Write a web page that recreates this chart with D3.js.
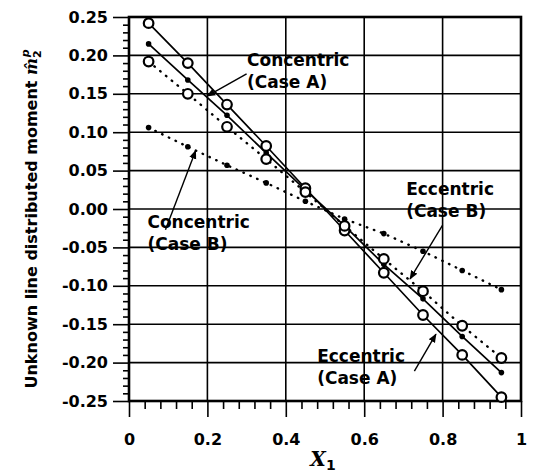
<!DOCTYPE html>
<html>
<head>
<meta charset="utf-8">
<script src="https://cdn.jsdelivr.net/npm/d3@7"></script>
<style>
  body { margin: 0; background: #fff; }
  svg { display: block; }
  .tick text { font-family: "DejaVu Sans", sans-serif; font-weight: bold; font-size: 16px; fill: #000; }
  .tick line { stroke: #000; stroke-width: 1.6; }
  .note { font-family: "DejaVu Sans", sans-serif; font-weight: bold; font-size: 17px; fill: #000; }
</style>
</head>
<body>
<div id="chart"></div>
<script>
// SVG size
var svgWidth = 534;
var svgHeight = 476;

var margin = { top: 17, right: 13, bottom: 75, left: 129 };
var chartWidth = svgWidth - margin.left - margin.right;
var chartHeight = svgHeight - margin.top - margin.bottom;

// Data
var xValues = [0.05, 0.15, 0.25, 0.35, 0.45, 0.55, 0.65, 0.75, 0.85, 0.95];
var eccentricA = [0.242, 0.190, 0.136, 0.082, 0.027, -0.028, -0.083, -0.138, -0.190, -0.245];
var concentricA = [0.215, 0.168, 0.122, 0.073, 0.025, -0.022, -0.072, -0.117, -0.166, -0.213];
var eccentricB = [0.192, 0.150, 0.107, 0.065, 0.022, -0.022, -0.065, -0.107, -0.152, -0.194];
var concentricB = [0.106, 0.081, 0.057, 0.034, 0.010, -0.013, -0.032, -0.055, -0.080, -0.105];

// Axis ticks
var xTicks = [0, 0.2, 0.4, 0.6, 0.8, 1];
var xTickLabels = ["0", "0.2", "0.4", "0.6", "0.8", "1"];
var yTicks = [-0.25, -0.20, -0.15, -0.10, -0.05, 0, 0.05, 0.10, 0.15, 0.20, 0.25];
var yTickLabels = ["-0.25", "-0.20", "-0.15", "-0.10", "-0.05", "0.00", "0.05", "0.10", "0.15", "0.20", "0.25"];

// Series styles: open circles or dots, solid or dotted
var series = [
  { name: "Eccentric (Case A)", values: eccentricA, open: true, dotted: false },
  { name: "Concentric (Case A)", values: concentricA, open: false, dotted: false },
  { name: "Eccentric (Case B)", values: eccentricB, open: true, dotted: true },
  { name: "Concentric (Case B)", values: concentricB, open: false, dotted: true }
];

// Annotations: text lines anchored at data coords, arrow from -> to
var notes = [
  { lines: ["Concentric", "(Case A)"], x: 0.301, y: 0.1865, from: [0.300, 0.176], to: [0.199, 0.147] },
  { lines: ["Concentric", "(Case B)"], x: 0.047, y: -0.0246, from: [0.093, -0.027], to: [0.170, 0.076] },
  { lines: ["Eccentric", "(Case B)"], x: 0.707, y: 0.0184, from: [0.800, -0.021], to: [0.717, -0.091] },
  { lines: ["Eccentric", "(Case A)"], x: 0.480, y: -0.199, from: [0.728, -0.211], to: [0.783, -0.163] }
];

var svg = d3.select("#chart")
  .append("svg")
  .attr("width", svgWidth)
  .attr("height", svgHeight);

var defs = svg.append("defs");
defs.append("marker")
  .attr("id", "arrow")
  .attr("viewBox", "0 0 10 10")
  .attr("refX", 9)
  .attr("refY", 5)
  .attr("markerWidth", 9)
  .attr("markerHeight", 9)
  .attr("markerUnits", "userSpaceOnUse")
  .attr("orient", "auto")
  .append("path")
  .attr("d", "M0,1 L10,5 L0,9 Z")
  .attr("fill", "#000");

var chartGroup = svg.append("g")
  .attr("transform", `translate(${margin.left}, ${margin.top})`);

var xScale = d3.scaleLinear().domain([0, 1]).range([0, chartWidth]);
var yScale = d3.scaleLinear().domain([-0.25, 0.25]).range([chartHeight, 0]);

// grid lines
chartGroup.append("g")
  .selectAll("line")
  .data(xTicks.slice(1, -1))
  .enter()
  .append("line")
  .attr("x1", d => xScale(d))
  .attr("x2", d => xScale(d))
  .attr("y1", 0)
  .attr("y2", chartHeight)
  .attr("stroke", "#000")
  .attr("stroke-width", 1.6);

chartGroup.append("g")
  .selectAll("line")
  .data(yTicks.slice(1, -1))
  .enter()
  .append("line")
  .attr("x1", 0)
  .attr("x2", chartWidth)
  .attr("y1", d => yScale(d))
  .attr("y2", d => yScale(d))
  .attr("stroke", "#000")
  .attr("stroke-width", 1.6);

// minor ticks
var xMinor = d3.range(0, 25).map(i => i * 0.04).filter(v => Math.abs(v * 5 - Math.round(v * 5)) > 1e-6);
var yMinor = d3.range(-25, 26).map(i => i / 100).filter(v => Math.abs(v * 20 - Math.round(v * 20)) > 1e-6);

chartGroup.append("g")
  .attr("transform", `translate(0, ${chartHeight})`)
  .call(d3.axisBottom(xScale).tickValues(xMinor).tickSize(8).tickFormat(""))
  .call(g => g.select(".domain").remove());

chartGroup.append("g")
  .call(d3.axisLeft(yScale).tickValues(yMinor).tickSize(6).tickFormat(""))
  .call(g => g.select(".domain").remove());

// major axes
chartGroup.append("g")
  .attr("transform", `translate(0, ${chartHeight})`)
  .call(d3.axisBottom(xScale).tickValues(xTicks).tickSize(16).tickPadding(17)
    .tickFormat((d, i) => xTickLabels[i]))
  .call(g => g.select(".domain").remove());

chartGroup.append("g")
  .call(d3.axisLeft(yScale).tickValues(yTicks).tickSize(16).tickPadding(5)
    .tickFormat((d, i) => yTickLabels[i]))
  .call(g => g.select(".domain").remove());

// frame
chartGroup.append("rect")
  .attr("x", 0)
  .attr("y", 0)
  .attr("width", chartWidth)
  .attr("height", chartHeight)
  .attr("fill", "none")
  .attr("stroke", "#000")
  .attr("stroke-width", 2.6);

// lines
var line = d3.line()
  .x((d, i) => xScale(xValues[i]))
  .y(d => yScale(d));

series.forEach(function(s) {
  chartGroup.append("path")
    .datum(s.values)
    .attr("d", line)
    .attr("fill", "none")
    .attr("stroke", "#000")
    .attr("stroke-width", s.dotted ? 2.4 : 1.7)
    .attr("stroke-linecap", s.dotted ? "round" : "butt")
    .attr("stroke-dasharray", s.dotted ? "0.5,7" : null);
});

// markers
series.forEach(function(s) {
  chartGroup.append("g")
    .selectAll("circle")
    .data(s.values)
    .enter()
    .append("circle")
    .attr("cx", (d, i) => xScale(xValues[i]))
    .attr("cy", d => yScale(d))
    .attr("r", s.open ? 4.8 : 2.8)
    .attr("fill", s.open ? "#fff" : "#000")
    .attr("stroke", "#000")
    .attr("stroke-width", s.open ? 2.2 : 0);
});

// annotations
notes.forEach(function(n) {
  chartGroup.append("line")
    .attr("x1", xScale(n.from[0]))
    .attr("y1", yScale(n.from[1]))
    .attr("x2", xScale(n.to[0]))
    .attr("y2", yScale(n.to[1]))
    .attr("stroke", "#000")
    .attr("stroke-width", 1.4)
    .attr("marker-end", "url(#arrow)");

  var t = chartGroup.append("text")
    .attr("class", "note")
    .attr("x", xScale(n.x))
    .attr("y", yScale(n.y));
  n.lines.forEach(function(l, i) {
    t.append("tspan")
      .attr("x", xScale(n.x))
      .attr("dy", i === 0 ? 0 : 22)
      .text(l);
  });
});

// axis titles
svg.append("text")
  .attr("x", 323)
  .attr("y", 466)
  .attr("text-anchor", "middle")
  .attr("font-family", "DejaVu Serif, serif")
  .attr("font-style", "italic")
  .attr("font-weight", "bold")
  .attr("font-size", "20px")
  .text("X")
  .append("tspan")
  .attr("dy", 4)
  .attr("font-size", "14px")
  .attr("font-style", "normal")
  .attr("font-family", "DejaVu Sans, sans-serif")
  .text("1");

var yTitle = svg.append("text")
  .attr("transform", "translate(37, 219) rotate(-90)")
  .attr("text-anchor", "middle")
  .attr("font-family", "DejaVu Sans, sans-serif")
  .attr("font-weight", "bold")
  .attr("font-size", "16px");
yTitle.append("tspan").text("Unknown line distributed moment ");
yTitle.append("tspan").attr("font-style", "italic").attr("font-family", "DejaVu Serif, serif").text("m\u0302");
yTitle.append("tspan").attr("font-size", "11px").attr("dy", 4).text("2");
yTitle.append("tspan").attr("font-size", "11px").attr("font-style", "italic").attr("dx", -7).attr("dy", -12).text("p");
</script>
</body>
</html>
